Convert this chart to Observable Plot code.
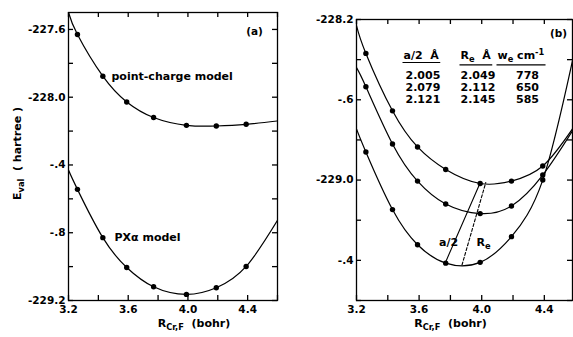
<!DOCTYPE html>
<html>
<head>
<meta charset="utf-8">
<script src="https://cdn.jsdelivr.net/npm/d3@7"></script>
<script src="https://cdn.jsdelivr.net/npm/@observablehq/plot@0.6"></script>
<style>
  body { margin: 0; background: #fff; }
  #chart { position: relative; width: 573px; height: 337px; overflow: hidden; background: #fff; }
  #chart svg { position: absolute; top: 0; }
</style>
</head>
<body>
<div id="chart"></div>
<script>
// ---------- data ----------
const rBohr = [3.26, 3.43, 3.59, 3.77, 3.99, 4.19, 4.39];

// panel (a)
const pointChargeE = [-227.63, -227.876, -228.028, -228.12, -228.166, -228.17, -228.16];
const pointChargeEdgeE = [-227.50, -228.14];   // curve value at R = 3.2 and 4.6
const pxAlphaE = [-228.544, -228.829, -229.005, -229.119, -229.164, -229.125, -228.999];
const pxAlphaEdgeE = [-228.43, -228.727];

// panel (b)
const curve2121E = [-228.369, -228.655, -228.835, -228.947, -229.017, -229.005, -228.93];
const curve2121EdgeE = [-228.23, -228.745];
const curve2079E = [-228.535, -228.82, -229.005, -229.119, -229.167, -229.129, -228.975];
const curve2079EdgeE = [-228.44, -228.755];
const curve2005E = [-228.86, -229.147, -229.322, -229.414, -229.41, -229.282, -229.0];
const curve2005EdgeE = [-228.745, -228.405];
const panelAEdgeR = [3.2, 4.6];
const panelBEdgeR = [3.2, 4.58];

// a/2 and Re connecting lines
const aHalfLineR = [3.769, 3.989];
const aHalfLineE = [-229.409, -229.016];
const reLineR = [3.874, 4.026];
const reLineE = [-229.423, -229.012];

// table
const tableHeaders = ["a/2  Å", "R_{e}  Å", "w_{e} cm^{-1}"];
const aHalfCol = ["2.005", "2.079", "2.121"];
const reCol = ["2.049", "2.112", "2.145"];
const weCol = ["778", "650", "585"];

// ticks
const xTicks = [3.2, 3.4, 3.6, 3.8, 4.0, 4.2, 4.4, 4.6];
const xTicksB = [3.2, 3.4, 3.6, 3.8, 4.0, 4.2, 4.4];
const xLabelTicks = [3.2, 3.6, 4.0, 4.4];
const xTickLabels = ["3.2", "3.6", "4.0", "4.4"];
const leftYTicks = [-227.6, -227.8, -228.0, -228.2, -228.4, -228.6, -228.8, -229.0, -229.2];
const leftYLabelTicks = [-227.6, -228.0, -228.4, -228.8, -229.2];
const leftYLabels = ["-227.6", "-228.0", "-.4", "-.8", "-229.2"];
const rightYTicks = [-228.2, -228.4, -228.6, -228.8, -229.0, -229.2, -229.4, -229.6];
const rightYLabelTicks = [-228.2, -228.6, -229.0, -229.4];
const rightYLabels = ["-228.2", "-.6", "-229.0", "-.4"];

const xTitle = "R_{Cr,F}  (bohr)";
const yTitle = "E_{val}  ( hartree )";

// ---------- helpers ----------
const toPts = (rs, es) => rs.map((r, i) => ({r, e: es[i]}));
const curvePts = (edgeR, edgeE, es) =>
  [{r: edgeR[0], e: edgeE[0]}, ...toPts(rBohr, es), {r: edgeR[1], e: edgeE[1]}];

const FONT = "DejaVu Sans";
const TICK = 5;

function frameAxes(innerW, innerH, xt, yt, yLabelTicks, yLabels) {
  const t = {stroke: "#000", strokeWidth: 1.3};
  return [
    Plot.tickX(xt, {x: d => d, insetTop: innerH - TICK, ...t}),
    Plot.tickX(xt, {x: d => d, insetBottom: innerH - TICK, ...t}),
    Plot.tickY(yt, {y: d => d, insetRight: innerW - TICK, ...t}),
    Plot.tickY(yt, {y: d => d, insetLeft: innerW - TICK, ...t}),
    Plot.frame({stroke: "#000", strokeWidth: 1.3}),
    Plot.axisX(xLabelTicks, {anchor: "bottom", tickSize: 0, tickPadding: 5, label: null,
      tickFormat: d => xTickLabels[xLabelTicks.indexOf(d)], fontSize: 10.5}),
    Plot.axisY(yLabelTicks, {anchor: "left", tickSize: 0, tickPadding: 3, label: null,
      tickFormat: d => yLabels[yLabelTicks.indexOf(d)], fontSize: 10.5})
  ];
}

const lineOpts = {x: "r", y: "e", curve: "natural", stroke: "#000", strokeWidth: 1.2, clip: true};
const dotOpts = {x: "r", y: "e", r: 2.7, fill: "#000"};

// ---------- panel (a) ----------
const A = {w: 290, h: 337, ml: 68, mr: 13, mt: 12, mb: 37};
const plotA = Plot.plot({
  width: A.w, height: A.h,
  marginLeft: A.ml, marginRight: A.mr, marginTop: A.mt, marginBottom: A.mb,
  x: {domain: [3.2, 4.6]},
  y: {domain: [-229.2, -227.5]},
  style: {fontFamily: FONT, fontSize: "11px", fontWeight: "bold", color: "#000", background: "transparent"},
  marks: [
    ...frameAxes(A.w - A.ml - A.mr, A.h - A.mt - A.mb, xTicks, leftYTicks, leftYLabelTicks, leftYLabels),
    Plot.line(curvePts(panelAEdgeR, pointChargeEdgeE, pointChargeE), lineOpts),
    Plot.dot(toPts(rBohr, pointChargeE), dotOpts),
    Plot.line(curvePts(panelAEdgeR, pxAlphaEdgeE, pxAlphaE), lineOpts),
    Plot.dot(toPts(rBohr, pxAlphaE), dotOpts),
    Plot.text(["(a)"], {frameAnchor: "top-right", dx: -23, dy: 19, textAnchor: "middle", lineAnchor: "middle", fontSize: 10.5}),
    Plot.text(["point-charge model"], {frameAnchor: "top-left", dx: 43, dy: 64, textAnchor: "start", lineAnchor: "middle", fontSize: 11}),
    Plot.text(["PXα model"], {frameAnchor: "top-left", dx: 46, dy: 225, textAnchor: "start", lineAnchor: "middle", fontSize: 11}),
    Plot.text([yTitle], {frameAnchor: "left", dx: -51, dy: -3, rotate: -90, textAnchor: "middle", lineAnchor: "middle", fontSize: 11}),
    Plot.text([xTitle], {frameAnchor: "bottom", dx: 21, dy: 23, textAnchor: "middle", lineAnchor: "middle", fontSize: 11})
  ]
});

// ---------- panel (b) ----------
const B = {w: 288, h: 337, ml: 71, mr: 1, mt: 19, mb: 37};
const plotB = Plot.plot({
  width: B.w, height: B.h,
  marginLeft: B.ml, marginRight: B.mr, marginTop: B.mt, marginBottom: B.mb,
  x: {domain: [3.2, 4.58]},
  y: {domain: [-229.6, -228.2]},
  style: {fontFamily: FONT, fontSize: "11px", fontWeight: "bold", color: "#000", background: "transparent"},
  marks: [
    ...frameAxes(B.w - B.ml - B.mr, B.h - B.mt - B.mb, xTicksB, rightYTicks, rightYLabelTicks, rightYLabels),
    Plot.line(curvePts(panelBEdgeR, curve2121EdgeE, curve2121E), lineOpts),
    Plot.dot(toPts(rBohr, curve2121E), dotOpts),
    Plot.line(curvePts(panelBEdgeR, curve2079EdgeE, curve2079E), lineOpts),
    Plot.dot(toPts(rBohr, curve2079E), dotOpts),
    Plot.line(curvePts(panelBEdgeR, curve2005EdgeE, curve2005E), lineOpts),
    Plot.dot(toPts(rBohr, curve2005E), dotOpts),
    Plot.line(toPts(aHalfLineR, aHalfLineE), {x: "r", y: "e", stroke: "#000", strokeWidth: 1.1}),
    Plot.line(toPts(reLineR, reLineE), {x: "r", y: "e", stroke: "#000", strokeWidth: 1.1, strokeDasharray: "3,2"}),
    Plot.text(["a/2"], {frameAnchor: "top-left", dx: 92, dy: 223, textAnchor: "middle", lineAnchor: "middle", fontSize: 11}),
    Plot.text(["R_{e}"], {frameAnchor: "top-left", dx: 127, dy: 223, textAnchor: "middle", lineAnchor: "middle", fontSize: 11}),
    Plot.text(["(b)"], {frameAnchor: "top-left", dx: 202, dy: 14, textAnchor: "middle", lineAnchor: "middle", fontSize: 10.5}),
    Plot.text([tableHeaders[0]], {frameAnchor: "top-left", dx: 47, dy: 36, textAnchor: "start", lineAnchor: "middle", fontSize: 11}),
    Plot.text([tableHeaders[1]], {frameAnchor: "top-left", dx: 104, dy: 36, textAnchor: "start", lineAnchor: "middle", fontSize: 11}),
    Plot.text([tableHeaders[2]], {frameAnchor: "top-left", dx: 141, dy: 36, textAnchor: "start", lineAnchor: "middle", fontSize: 11}),
    Plot.text([aHalfCol.join("\n")], {frameAnchor: "top-left", dx: 49, dy: 67.5, textAnchor: "start", lineAnchor: "middle", lineHeight: 1.13, fontSize: 11}),
    Plot.text([reCol.join("\n")], {frameAnchor: "top-left", dx: 104, dy: 67.5, textAnchor: "start", lineAnchor: "middle", lineHeight: 1.13, fontSize: 11}),
    Plot.text([weCol.join("\n")], {frameAnchor: "top-left", dx: 171, dy: 67.5, textAnchor: "middle", lineAnchor: "middle", lineHeight: 1.13, fontSize: 11}),
    Plot.text([xTitle], {frameAnchor: "bottom", dx: -14, dy: 23, textAnchor: "middle", lineAnchor: "middle", fontSize: 11})
  ]
});

const chart = document.getElementById("chart");
plotA.style.left = "0px";
plotB.style.left = "285px";
chart.appendChild(plotA);
chart.appendChild(plotB);

// ---------- rich text (sub/superscripts) and header underlines ----------
const NS = "http://www.w3.org/2000/svg";
function richText(svg) {
  svg.querySelectorAll("text").forEach(t => {
    const s = t.textContent;
    const underline = tableHeaders.includes(s);
    if (/[_^]\{/.test(s)) {
      const fs = parseFloat(getComputedStyle(t).fontSize) || 11;
      const re = /([_^])\{([^}]*)\}/g;
      const parts = [];
      let last = 0, m;
      while ((m = re.exec(s))) {
        if (m.index > last) parts.push({t: s.slice(last, m.index), k: 0});
        parts.push({t: m[2], k: m[1] === "_" ? 1 : -1});
        last = re.lastIndex;
      }
      if (last < s.length) parts.push({t: s.slice(last), k: 0});
      t.textContent = "";
      let cur = 0;
      for (const p of parts) {
        const ts = document.createElementNS(NS, "tspan");
        const target = p.k === 1 ? 0.3 * fs : p.k === -1 ? -0.4 * fs : 0;
        if (target !== cur) ts.setAttribute("dy", (target - cur).toFixed(2));
        cur = target;
        if (p.k !== 0) ts.setAttribute("font-size", (0.75 * fs).toFixed(2));
        ts.textContent = p.t;
        t.appendChild(ts);
      }
    }
    if (underline) {
      const b = t.getBBox();
      const ln = document.createElementNS(NS, "line");
      ln.setAttribute("x1", b.x - 1);
      ln.setAttribute("x2", b.x + b.width + 1);
      ln.setAttribute("y1", b.y + b.height + 0.5);
      ln.setAttribute("y2", b.y + b.height + 0.5);
      ln.setAttribute("stroke", "#000");
      ln.setAttribute("stroke-width", "1.2");
      const tr = t.getAttribute("transform");
      if (tr) ln.setAttribute("transform", tr);
      t.parentNode.appendChild(ln);
    }
  });
}
richText(plotA);
richText(plotB);
</script>
</body>
</html>
